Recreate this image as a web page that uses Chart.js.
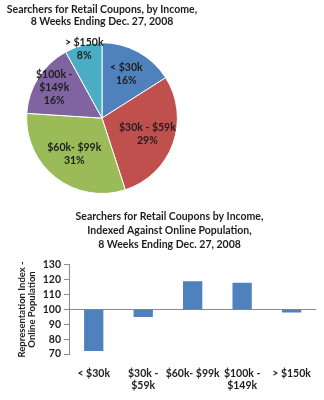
<!DOCTYPE html>
<html><head><meta charset="utf-8">
<script src="https://cdn.jsdelivr.net/npm/chart.js@4/dist/chart.umd.min.js"></script>
<style>
html,body{margin:0;padding:0;background:#fff;}
#pieBox{position:absolute;left:0;top:0;width:204px;height:200px;}
#barBox{position:absolute;left:0;top:200px;width:324px;height:200px;}
</style></head><body>
<div id="pieBox"><canvas id="pie"></canvas></div>
<div id="barBox"><canvas id="bar"></canvas></div>
<script>
// Income groups and their share of coupon searchers
const incomeGroups = ['< $30k', '$30k - $59k', '$60k- $99k', '$100k - $149k', '> $150k'];
const pieLabelLines = [['< $30k'], ['$30k - $59k'], ['$60k- $99k'], ['$100k -', '$149k'], ['> $150k']];
const sharePct = [16, 29, 31, 16, 8];
const sliceColors = ['#4F81BD', '#C0504D', '#9BBB59', '#8064A2', '#4BACC6'];

// Representation index against the online population (100 = parity)
const barLabelLines = [['< $30k'], ['$30k -', '$59k'], ['$60k- $99k'], ['$100k -', '$149k'], ['> $150k']];
const indexValues = [72, 95, 119, 118, 98];
const indexBase = 100;
const indexTicks = [70, 80, 90, 100, 110, 120, 130];

const FONT = 'Lato, "Open Sans", sans-serif';
const INK = '#1e1e1e';
const AXIS = '#8c8c8c';

// Draws the category name and percentage inside each pie slice
const sliceLabels = {
  id: 'sliceLabels',
  afterDatasetsDraw(chart, args, opts) {
    const ctx = chart.ctx;
    const meta = chart.getDatasetMeta(0);
    ctx.save();
    ctx.font = opts.font;
    ctx.fillStyle = opts.color;
    ctx.textAlign = 'center';
    ctx.textBaseline = 'middle';
    meta.data.forEach((arc, i) => {
      const p = arc.getProps(['x', 'y', 'startAngle', 'endAngle', 'outerRadius'], true);
      const mid = (p.startAngle + p.endAngle) / 2;
      const r = p.outerRadius * opts.radial[i];
      const cx = p.x + Math.cos(mid) * r;
      const cy = p.y + Math.sin(mid) * r;
      const lines = pieLabelLines[i].concat([sharePct[i] + '%']);
      lines.forEach((t, k) => ctx.fillText(t, cx, cy + (k - (lines.length - 1) / 2) * opts.lineHeight));
    });
    ctx.restore();
  }
};

new Chart(document.getElementById('pie'), {
  type: 'pie',
  data: {
    labels: incomeGroups,
    datasets: [{
      data: sharePct,
      backgroundColor: sliceColors,
      borderColor: '#ffffff',
      borderWidth: 1
    }]
  },
  options: {
    animation: false,
    responsive: true,
    maintainAspectRatio: false,
    layout: { padding: { top: 0, bottom: 6 } },
    plugins: {
      legend: { display: false },
      tooltip: { enabled: false },
      title: {
        display: true,
        text: ['Searchers for Retail Coupons, by Income,', '8 Weeks Ending Dec. 27, 2008'],
        color: INK,
        font: { family: FONT, size: 10.5, weight: 'bold', lineHeight: 1.2 },
        padding: { top: 3, bottom: 14 }
      },
      sliceLabels: {
        font: 'bold 10.5px ' + FONT,
        color: INK,
        lineHeight: 13,
        radial: [0.67, 0.64, 0.6, 0.75, 0.95]
      }
    }
  },
  plugins: [sliceLabels]
});

new Chart(document.getElementById('bar'), {
  type: 'bar',
  data: {
    labels: barLabelLines,
    datasets: [{
      data: indexValues.map(v => [indexBase, v]),
      backgroundColor: '#4F81BD',
      borderWidth: 0,
      barPercentage: 0.39,
      categoryPercentage: 1
    }]
  },
  options: {
    animation: false,
    responsive: true,
    maintainAspectRatio: false,
    layout: { padding: { left: 16, right: 1, top: 0, bottom: 0 } },
    plugins: {
      legend: { display: false },
      tooltip: { enabled: false },
      title: {
        display: true,
        text: ['Searchers for Retail Coupons by Income,', 'Indexed Against Online Population,', '8 Weeks Ending Dec. 27, 2008'],
        color: INK,
        font: { family: FONT, size: 10.5, weight: 'bold', lineHeight: 1.3 },
        padding: { top: 10, bottom: 14 }
      }
    },
    scales: {
      x: {
        grid: { display: false, drawTicks: false },
        border: { display: false },
        ticks: { color: INK, font: { family: FONT, size: 10.5, weight: 'bold', lineHeight: 1.2 }, padding: 13, maxRotation: 0, autoSkip: false },
        afterFit(scale) { scale.height = 46; }
      },
      y: {
        min: 70,
        max: 130,
        afterBuildTicks(scale) { scale.ticks = indexTicks.map(v => ({ value: v })); },
        ticks: { color: INK, font: { family: FONT, size: 10.5, weight: 'bold' }, padding: 3, autoSkip: false },
        grid: {
          color: c => (c.tick && c.tick.value === indexBase) ? AXIS : 'rgba(0,0,0,0)',
          tickColor: AXIS,
          tickLength: 5
        },
        border: { display: true, color: AXIS },
        title: {
          display: true,
          text: ['Representation Index -', 'Online Population'],
          color: INK,
          font: { family: FONT, size: 9.5, weight: 'bold', lineHeight: 1.15 },
          padding: 0
        },
        afterFit(scale) { scale.width = 53; }
      }
    }
  }
});
</script>
</body></html>
